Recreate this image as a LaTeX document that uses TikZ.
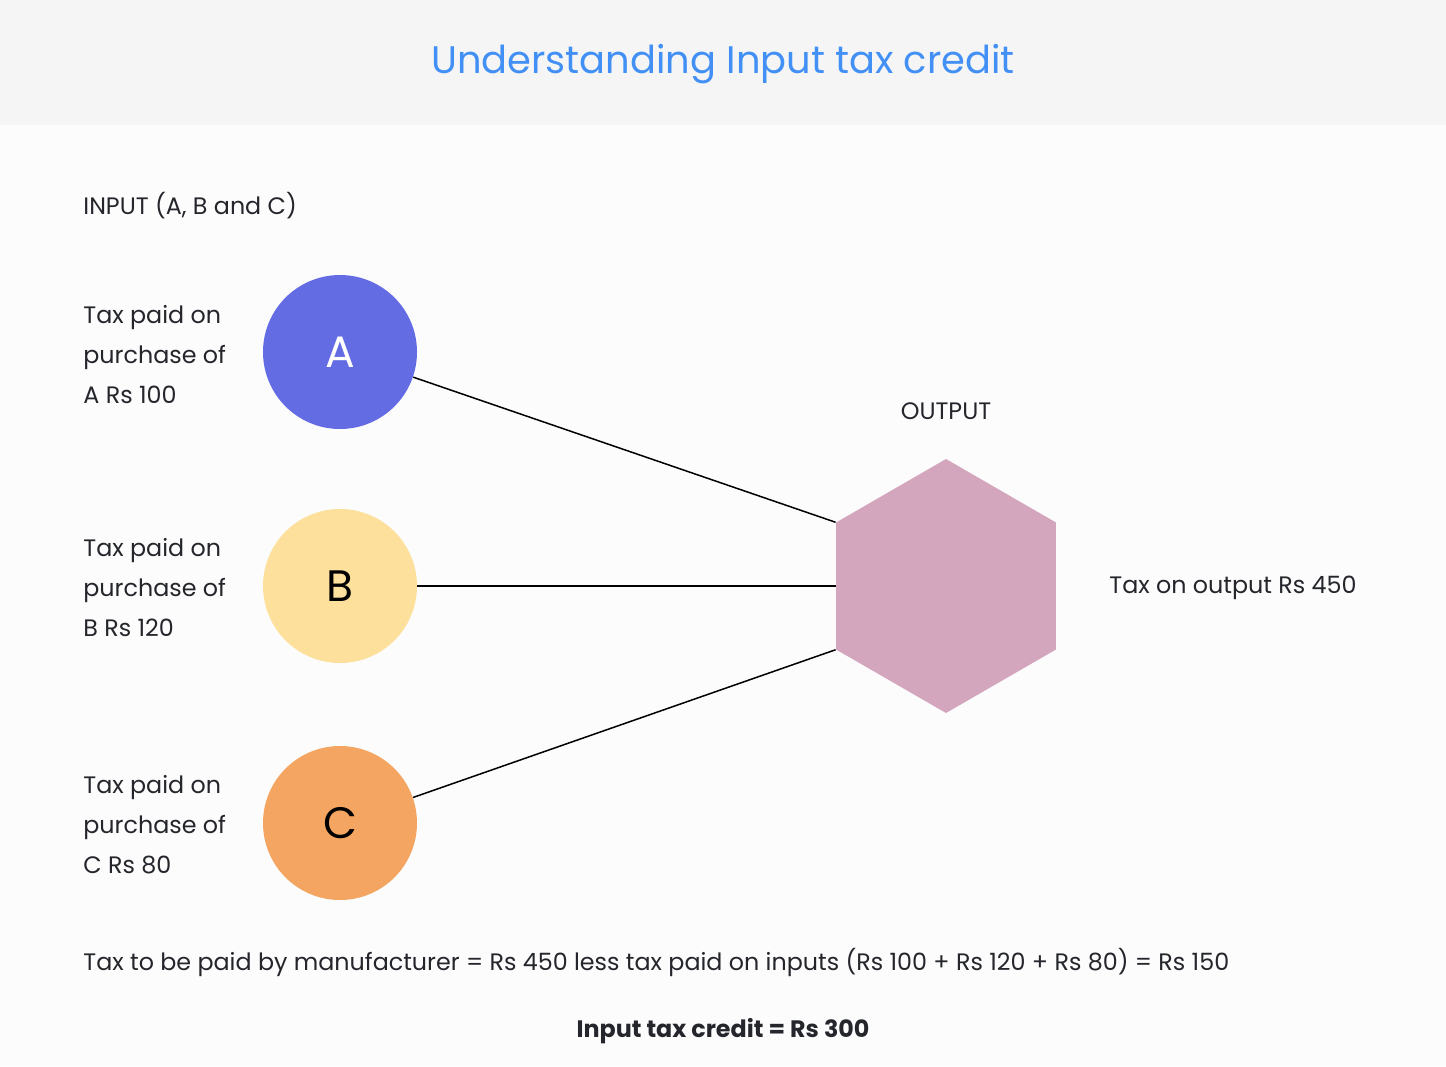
\documentclass[tikz,border=0pt]{standalone}
\usepackage{fontspec}
\setmainfont{Poppins}
\usetikzlibrary{positioning,shapes.geometric}
\definecolor{header}{HTML}{F5F5F6}
\definecolor{page}{HTML}{FCFCFD}
\definecolor{titleblue}{HTML}{4290F5}
\definecolor{ink}{HTML}{24262B}
\definecolor{inA}{HTML}{636CE3}
\definecolor{inB}{HTML}{FDE09C}
\definecolor{inC}{HTML}{F3A561}
\definecolor{outhex}{HTML}{D4A6BD}
\tikzset{
  body/.style={font=\fontsize{11.9}{20}\selectfont, text=ink, inner sep=0pt},
  sidelabel/.style={body, anchor=west, align=left},
  input/.style={circle, minimum size=77pt, inner sep=0pt,
                font=\fontsize{22}{22}\selectfont},
  output/.style={regular polygon, regular polygon sides=6, shape border rotate=30,
                 fill=outhex, minimum size=127pt, inner sep=0pt},
  link/.style={draw=black, line width=0.75pt}
}
\begin{document}
\begin{tikzpicture}[x=0.5pt,y=-0.5pt]
\useasboundingbox (0,0) rectangle (1446,1066);
\fill[page] (0,0) rectangle (1446,1066);
\fill[header] (0,0) rectangle (1446,125);
\node[font=\fontsize{19.2}{19.2}\selectfont, text=titleblue] (title) at (723,64) {Understanding Input tax credit};
\node[body, anchor=west] (inputs) at (83,206) {INPUT (A, B and C)};
% inputs
\node[input, fill=inA, text=white] (a) at (340,352) {A};
\node[input, fill=inB, text=black] (b) at (340,586) {B};
\node[input, fill=inC, text=black] (c) at (340,823) {C};
\node[sidelabel] (la) at (83,355) {Tax paid on\\purchase of\\A Rs 100};
\node[sidelabel] (lb) at (83,588) {Tax paid on\\purchase of\\B Rs 120};
\node[sidelabel] (lc) at (83,825) {Tax paid on\\purchase of\\C Rs 80};
% output
\node[output] (out) at (946,586) {};
\node[body] (outtitle) at (946,411) {OUTPUT};
\node[sidelabel] (outtax) at (1109,588) {Tax on output Rs 450};
\draw[link] (a) -- (out.150);
\draw[link] (b) -- (out.180);
\draw[link] (c) -- (out.210);
% totals
\node[sidelabel] (payable) at (83,962) {Tax to be paid by manufacturer = Rs 450 less tax paid on inputs (Rs 100 + Rs 120 + Rs 80) = Rs 150};
\node[body, font=\fontsize{11.9}{20}\selectfont\bfseries] (credit) at (723,1031) {Input tax credit = Rs 300};
\end{tikzpicture}
\end{document}
